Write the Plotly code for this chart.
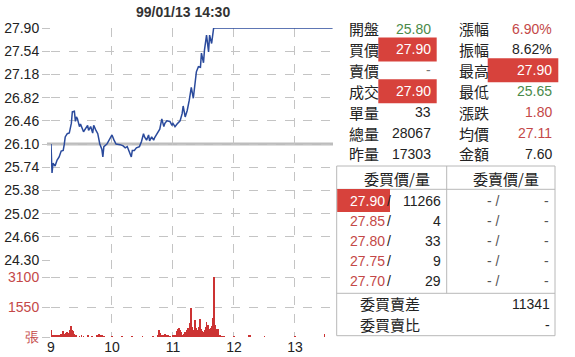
import plotly.graph_objects as go

# ---------------- data ----------------
title_text = "99/01/13 14:30"
prev_close = 26.10

price_minutes = [0, 1, 2, 4, 6, 8, 10, 12, 13, 14, 16, 18, 20, 21, 23, 24, 25, 26, 28, 29,
                 32, 34, 36, 37, 39, 41, 42, 44, 46, 48, 50, 51, 52, 55, 57, 59, 60, 62, 64, 68,
                 71, 73, 75, 77, 79, 80, 82, 84, 87, 89, 91, 92, 94, 96, 97, 99, 101, 102, 104, 107,
                 109, 111, 112, 114, 117, 119, 120, 122, 124, 127, 129, 130, 132, 134, 136, 138, 140, 142, 143, 145,
                 147, 148, 150, 151, 153, 155, 156, 158, 160, 277]
price_values = [26.10, 25.65, 25.80, 25.76, 25.85, 25.90, 25.99, 26.00, 26.09, 26.21, 26.26, 26.27, 26.42, 26.60, 26.61, 26.45, 26.52, 26.49, 26.37, 26.41,
                26.29, 26.34, 26.39, 26.31, 26.37, 26.27, 26.39, 26.32, 26.26, 26.10, 26.02, 25.90, 26.06, 26.10, 26.16, 26.21, 26.24, 26.16, 26.10, 26.09,
                26.07, 26.04, 26.06, 25.98, 25.90, 26.00, 26.00, 26.04, 26.06, 26.14, 26.26, 26.21, 26.16, 26.24, 26.15, 26.21, 26.16, 26.20, 26.26, 26.33,
                26.49, 26.37, 26.42, 26.46, 26.45, 26.39, 26.42, 26.37, 26.41, 26.46, 26.57, 26.69, 26.52, 26.62, 26.78, 26.98, 26.81, 27.09, 27.22, 27.30,
                27.29, 27.51, 27.36, 27.56, 27.79, 27.53, 27.79, 27.66, 27.90, 27.90]

vol_minutes = [0, 1, 2, 3, 4, 5, 6, 7, 8, 9, 10, 11, 12, 13, 14, 15, 16, 17, 18, 19,
               20, 21, 22, 23, 24, 25, 28, 30, 32, 36, 40, 45, 46, 47, 48, 49, 50, 52, 60, 70,
               80, 90, 100, 105, 106, 107, 108, 110, 112, 113, 114, 115, 117, 120, 122, 124, 125, 126, 127, 128,
               129, 130, 131, 132, 133, 134, 135, 136, 137, 138, 139, 140, 141, 142, 143, 144, 145, 146, 147, 148,
               149, 150, 151, 152, 153, 154, 155, 156, 157, 158, 159, 160, 161, 162, 163, 164, 165, 166, 168, 170,
               180, 195, 196, 210, 240, 269]
vol_values = [340, 60, 80, 50, 100, 60, 80, 120, 90, 60, 150, 100, 290, 130, 180, 220, 260, 200, 150, 350,
              590, 380, 300, 150, 100, 60, 50, 80, 40, 70, 40, 60, 100, 150, 80, 120, 60, 40, 30, 40,
              30, 40, 30, 120, 370, 200, 100, 80, 150, 100, 120, 60, 40, 60, 100, 300, 420, 470, 380, 250,
              120, 80, 150, 250, 200, 350, 480, 400, 700, 1520, 500, 350, 280, 900, 450, 300, 380, 500, 930, 400,
              300, 250, 350, 500, 760, 620, 400, 300, 480, 550, 1000, 3100, 600, 400, 250, 400, 120, 60, 40, 30,
              30, 120, 60, 30, 20, 130]

price_ticks = [24.30, 24.66, 25.02, 25.38, 25.74, 26.10, 26.46, 26.82, 27.18, 27.54, 27.90]
vol_ticks = [0, 1550, 3100]
vol_tick_labels = ["張", "1550", "3100"]
hour_ticks = [0, 60, 120, 180, 240]
hour_labels = ["9", "10", "11", "12", "13"]

stat_left_labels = ["開盤", "買價", "賣價", "成交", "單量", "總量", "昨量"]
stat_left_values = ["25.80", "27.90", "-", "27.90", "33", "28067", "17303"]
stat_right_labels = ["漲幅", "振幅", "最高", "最低", "漲跌", "均價", "金額"]
stat_right_values = ["6.90%", "8.62%", "27.90", "25.65", "1.80", "27.11", "7.60"]

bid_prices = ["27.90", "27.85", "27.80", "27.75", "27.70"]
bid_volumes = ["11266", "4", "33", "9", "29"]
ask_prices = ["-", "-", "-", "-", "-"]
ask_volumes = ["-", "-", "-", "-", "-"]
book_headers = ["委買價/量", "委賣價/量"]
summary_labels = ["委買賣差", "委買賣比"]
summary_values = ["11341", "-"]

# ---------------- style ----------------
W, H = 575, 357
L, R, T, B = 51, 333, 28, 337
PW, PH = R - L, B - T
SPLIT = 260  # pixel row between price and volume panels

BLUE = "#2a4a9c"
GRAY_LINE = "#bdbdbd"
GRID = "#c4c4c4"
RED_BAR = "#cc3333"
RED_TXT = "#c44848"
GREEN_TXT = "#4a8a4a"
BOX_RED = "#d7423c"
TXT = "#222222"
NUM_FONT = "Liberation Sans, Arial, sans-serif"
CJK_FONT = "Noto Sans CJK TC, Noto Sans CJK SC, sans-serif"


def px(x):
    return (x - L) / PW


def py(y):
    return (B - y) / PH


vol_top = 3100 * (B - SPLIT) / 60.0
split_frac = py(SPLIT)

fig = go.Figure()

fig.add_trace(go.Scatter(
    x=price_minutes, y=price_values, mode="lines",
    line=dict(color=BLUE, width=1.5), xaxis="x", yaxis="y",
    hoverinfo="skip", showlegend=False))

fig.add_trace(go.Bar(
    x=vol_minutes, y=vol_values, width=0.9,
    marker=dict(color=RED_BAR, line=dict(width=0)),
    xaxis="x2", yaxis="y2", hoverinfo="skip", showlegend=False))

xcommon = dict(range=[0, 277.4], tickvals=hour_ticks, showgrid=True,
               gridcolor=GRID, griddash="dash", gridwidth=1, automargin=False,
               zeroline=False, showline=False, fixedrange=True)

fig.update_layout(
    width=W, height=H,
    margin=dict(l=L, r=W - R, t=T, b=H - B, pad=0, autoexpand=False),
    paper_bgcolor="white", plot_bgcolor="white",
    bargap=0,
    xaxis=dict(**xcommon, anchor="y", showticklabels=False, ticks=""),
    xaxis2=dict(**xcommon, anchor="y2", matches="x", ticktext=hour_labels,
                ticks="", tickfont=dict(family=NUM_FONT, size=14, color=TXT)),
    yaxis=dict(domain=[split_frac, 1], range=[24.30, 27.90], tickvals=price_ticks,
               tickformat=".2f", showgrid=True, gridcolor=GRID, griddash="dash",
               zeroline=False, showline=False, ticks="outside", ticklen=8, automargin=False,
               tickcolor=GRID, tickfont=dict(family=NUM_FONT, size=14, color=TXT)),
    yaxis2=dict(domain=[0, split_frac], range=[0, vol_top], tickvals=vol_ticks,
                ticktext=vol_tick_labels, showgrid=True, gridcolor=GRID, griddash="dash",
                zeroline=False, showline=False, ticks="outside", ticklen=8, automargin=False,
                tickcolor=GRID, tickfont=dict(family=NUM_FONT, size=14, color=RED_TXT)),
)

shapes = []
# previous close reference line
shapes.append(dict(type="line", xref="paper", yref="y", x0=px(47), x1=1,
                   y0=prev_close, y1=prev_close, line=dict(color=GRAY_LINE, width=3),
                   layer="below"))

annotations = []
annotations.append(dict(text="<b>" + title_text + "</b>", xref="paper", yref="paper",
                        x=px(183), y=py(12), xanchor="center", yanchor="middle",
                        showarrow=False, font=dict(family=NUM_FONT, size=14, color="#333333")))

# ---- stats block ----
row_y0, row_dy = 28.5, 20.9
left_colors = [GREEN_TXT, "white", "#777777", "white", TXT, TXT, TXT]
right_colors = [RED_TXT, TXT, "white", GREEN_TXT, RED_TXT, RED_TXT, TXT]
left_boxed = [1, 3]
right_boxed = [2]

for i in left_boxed:
    yc = row_y0 + i * row_dy
    shapes.append(dict(type="rect", xref="paper", yref="paper",
                       x0=px(378.3), x1=px(436.7), y0=py(yc - 12), y1=py(yc + 12),
                       fillcolor=BOX_RED, line=dict(width=0)))
for i in right_boxed:
    yc = row_y0 + i * row_dy
    shapes.append(dict(type="rect", xref="paper", yref="paper",
                       x0=px(487.7), x1=px(558.3), y0=py(yc - 12), y1=py(yc + 12),
                       fillcolor=BOX_RED, line=dict(width=0)))

for i in range(len(stat_left_labels)):
    yc = row_y0 + i * row_dy
    annotations.append(dict(text=stat_left_labels[i], xref="paper", yref="paper",
                            x=px(346.5), y=py(yc), xanchor="left", yanchor="middle",
                            showarrow=False, font=dict(family=CJK_FONT, size=15, color=TXT)))
    annotations.append(dict(text=stat_left_values[i], xref="paper", yref="paper",
                            x=px(433), y=py(yc), xanchor="right", yanchor="middle",
                            showarrow=False, font=dict(family=NUM_FONT, size=14, color=left_colors[i])))
    annotations.append(dict(text=stat_right_labels[i], xref="paper", yref="paper",
                            x=px(457), y=py(yc), xanchor="left", yanchor="middle",
                            showarrow=False, font=dict(family=CJK_FONT, size=15, color=TXT)))
    annotations.append(dict(text=stat_right_values[i], xref="paper", yref="paper",
                            x=px(554), y=py(yc), xanchor="right", yanchor="middle",
                            showarrow=False, font=dict(family=NUM_FONT, size=14, color=right_colors[i])))

# ---- order book table ----
BORDER = "#b8b8b8"
tb_l, tb_r, tb_t, tb_b = 336.7, 555.0, 166.0, 335.7
hdr_b, mid_x, sum_t = 189.3, 446.7, 293.3
shapes.append(dict(type="rect", xref="paper", yref="paper", x0=px(tb_l), x1=px(tb_r),
                   y0=py(tb_b), y1=py(tb_t), line=dict(color=BORDER, width=1)))
shapes.append(dict(type="line", xref="paper", yref="paper", x0=px(tb_l), x1=px(tb_r),
                   y0=py(hdr_b), y1=py(hdr_b), line=dict(color=BORDER, width=1)))
shapes.append(dict(type="line", xref="paper", yref="paper", x0=px(tb_l), x1=px(tb_r),
                   y0=py(sum_t), y1=py(sum_t), line=dict(color=BORDER, width=1)))
shapes.append(dict(type="line", xref="paper", yref="paper", x0=px(mid_x), x1=px(mid_x),
                   y0=py(tb_t), y1=py(sum_t), line=dict(color=BORDER, width=1)))

annotations.append(dict(text=book_headers[0], xref="paper", yref="paper", x=px(396.7), y=py(178.3),
                        xanchor="center", yanchor="middle", showarrow=False,
                        font=dict(family=CJK_FONT, size=15, color=TXT)))
annotations.append(dict(text=book_headers[1], xref="paper", yref="paper", x=px(505.7), y=py(178.3),
                        xanchor="center", yanchor="middle", showarrow=False,
                        font=dict(family=CJK_FONT, size=15, color=TXT)))

book_y0, book_dy = 200.5, 20.2
shapes.append(dict(type="rect", xref="paper", yref="paper", x0=px(tb_l + 0.5), x1=px(390),
                   y0=py(book_y0 + 11.5), y1=py(book_y0 - 11.5), fillcolor=BOX_RED, line=dict(width=0)))
for i in range(len(bid_prices)):
    yc = book_y0 + i * book_dy
    pcol = "white" if i == 0 else RED_TXT
    annotations.append(dict(text=bid_prices[i], xref="paper", yref="paper", x=px(387), y=py(yc),
                            xanchor="right", yanchor="middle", showarrow=False,
                            font=dict(family=NUM_FONT, size=14, color=pcol)))
    annotations.append(dict(text="/", xref="paper", yref="paper", x=px(393), y=py(yc),
                            xanchor="right", yanchor="middle", showarrow=False,
                            font=dict(family=NUM_FONT, size=14, color=TXT)))
    annotations.append(dict(text=bid_volumes[i], xref="paper", yref="paper", x=px(443), y=py(yc),
                            xanchor="right", yanchor="middle", showarrow=False,
                            font=dict(family=NUM_FONT, size=14, color=TXT)))
    annotations.append(dict(text=ask_prices[i] + " /", xref="paper", yref="paper", x=px(502), y=py(yc),
                            xanchor="right", yanchor="middle", showarrow=False,
                            font=dict(family=NUM_FONT, size=14, color="#555555")))
    annotations.append(dict(text=ask_volumes[i], xref="paper", yref="paper", x=px(551), y=py(yc),
                            xanchor="right", yanchor="middle", showarrow=False,
                            font=dict(family=NUM_FONT, size=14, color="#555555")))

sum_y = [303.5, 324.5]
for i in range(len(summary_labels)):
    annotations.append(dict(text=summary_labels[i], xref="paper", yref="paper", x=px(357.5), y=py(sum_y[i]),
                            xanchor="left", yanchor="middle", showarrow=False,
                            font=dict(family=CJK_FONT, size=15, color=TXT)))
    annotations.append(dict(text=summary_values[i], xref="paper", yref="paper", x=px(552), y=py(sum_y[i]),
                            xanchor="right", yanchor="middle", showarrow=False,
                            font=dict(family=NUM_FONT, size=14, color=TXT)))

fig.update_layout(shapes=shapes, annotations=annotations)

fig.write_html("out.html", config={"displayModeBar": False},
               post_script="document.body.style.margin='0';document.body.style.overflow='hidden';")
